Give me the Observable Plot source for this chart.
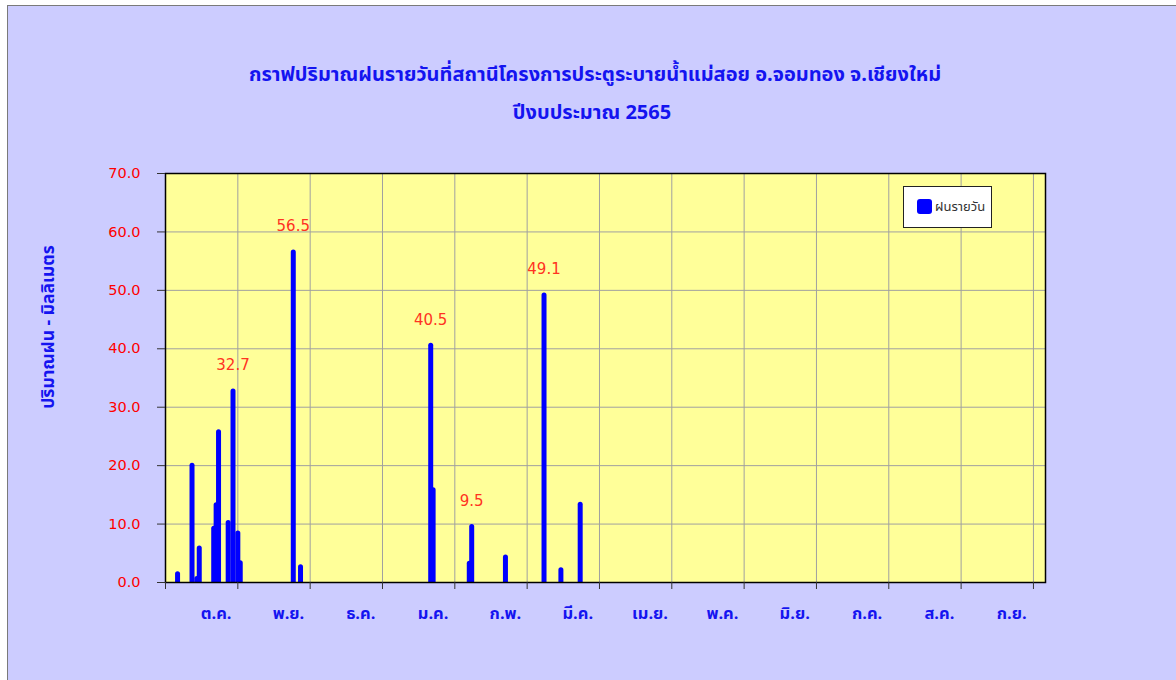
<!DOCTYPE html>
<html>
<head>
<meta charset="utf-8">
<script src="https://cdn.jsdelivr.net/npm/d3@7"></script>
<script src="https://cdn.jsdelivr.net/npm/@observablehq/plot@0.6"></script>
<style>
  html, body { margin: 0; padding: 0; background: #ffffff; }
  body { width: 1176px; height: 680px; position: relative; overflow: hidden; font-family: Tahoma, "Noto Sans Thai", "DejaVu Sans", sans-serif; }
  #box { position: absolute; left: 7px; top: 5px; width: 1180px; height: 690px; background: #CCCCFF; border-left: 1px solid #7a7a7a; border-top: 1px solid #7a7a7a; }
  .title { position: absolute; left: 0; width: 1190px; text-align: center; color: #1414f0; font-weight: bold; font-size: 20px; }
  #ylab { position: absolute; left: 48px; top: 327px; transform: translate(-50%, -50%) rotate(-90deg); white-space: nowrap; color: #1414f0; font-weight: bold; font-size: 17.5px; }
  #chart { position: absolute; left: 0; top: 0; }
  #legend { position: absolute; left: 903px; top: 186px; width: 89px; height: 42px; background: #fff; border: 1px solid #222; box-sizing: border-box; }
  #legend .sw { position: absolute; left: 13px; top: 12px; width: 15px; height: 15px; background: #0000ff; border-radius: 3px; }
  #legend .lt { position: absolute; left: 31px; top: 10px; font-size: 13px; color: #333; }
</style>
</head>
<body>
<div id="box"></div>
<div class="title" style="top:60px">กราฟปริมาณฝนรายวันที่สถานีโครงการประตูระบายน้ำแม่สอย อ.จอมทอง จ.เชียงใหม่</div>
<div class="title" style="top:98px; width:1184px">ปีงบประมาณ 2565</div>
<div id="chart"></div>
<div id="ylab">ปริมาณฝน - มิลลิเมตร</div>
<div id="legend"><div class="sw"></div><div class="lt">ฝนรายวัน</div></div>
<script>
// Daily rainfall (mm), fiscal year 2565 (Oct 2021 – Sep 2022)
const dates = ["2021-10-06","2021-10-12","2021-10-14","2021-10-15","2021-10-21","2021-10-22","2021-10-23",
               "2021-10-27","2021-10-29","2021-10-31","2021-11-01","2021-11-23","2021-11-26",
               "2022-01-19","2022-01-20","2022-02-04","2022-02-05","2022-02-19",
               "2022-03-07","2022-03-14","2022-03-22"];
const rain  = [1.4, 20.0, 0.6, 5.8, 9.2, 13.2, 25.7,
               10.2, 32.7, 8.4, 3.3, 56.5, 2.6,
               40.5, 15.8, 3.2, 9.5, 4.3,
               49.1, 2.1, 13.3];
const monthLabels = ["ต.ค.","พ.ย.","ธ.ค.","ม.ค.","ก.พ.","มี.ค.","เม.ย.","พ.ค.","มิ.ย.","ก.ค.","ส.ค.","ก.ย."];
const yTicks = [0, 10, 20, 30, 40, 50, 60, 70];
const seriesName = "ฝนรายวัน";

const start = new Date(Date.UTC(2021, 9, 1));
const end = new Date(Date.UTC(2022, 9, 1));
const data = dates.map((d, i) => ({date: new Date(d + "T00:00:00Z"), key: d.slice(0, 7), rain: rain[i]}));
const xTicks = d3.range(13).map(k => d3.utcDay.offset(start, 30 * k));
const monthPos = monthLabels.map((m, i) => ({label: m, date: d3.utcDay.offset(start, 30 * i + 21)}));

const chart = Plot.plot({
  width: 1176,
  height: 680,
  marginLeft: 165,
  marginRight: 131,
  marginTop: 173,
  marginBottom: 98,
  style: {background: "transparent", fontFamily: "'DejaVu Sans', Tahoma, sans-serif", overflow: "visible"},
  x: {type: "utc", domain: [start, end], axis: null},
  y: {domain: [0, 70], axis: null},
  marks: [
    Plot.frame({fill: "#FFFF99", stroke: null}),
    Plot.gridY(yTicks.slice(1, -1), {stroke: "#a0a0a0", strokeOpacity: 1}),
    Plot.gridX(xTicks.slice(1), {stroke: "#a0a0a0", strokeOpacity: 1}),
    Plot.ruleX(data, {x: "date", y1: 0, y2: "rain", stroke: "#0000ff", strokeWidth: 5, strokeLinecap: "round", clip: true}),
    Plot.frame({stroke: "#000", strokeWidth: 1.5}),
    Plot.axisY(yTicks, {tickSize: 8, tickPadding: 17, tickFormat: d => d.toFixed(1), fill: "#ff0000", stroke: "#333", fontSize: 14.5, label: null}),
    Plot.axisX(xTicks, {tickSize: 7, tickFormat: () => "", stroke: "#333", label: null}),
    Plot.text(monthPos, {x: "date", text: "label", frameAnchor: "bottom", dy: 36, fill: "#1414f0", fontSize: 16.5, fontWeight: "bold", fontFamily: "Tahoma, 'Noto Sans Thai', sans-serif"}),
    Plot.text(data, Plot.selectMaxY({x: "date", y: "rain", z: "key", text: d => d.rain.toFixed(1), dy: -26, fill: "#ff3322", fontSize: 15}))
  ]
});
document.getElementById("chart").append(chart);
</script>
</body>
</html>
